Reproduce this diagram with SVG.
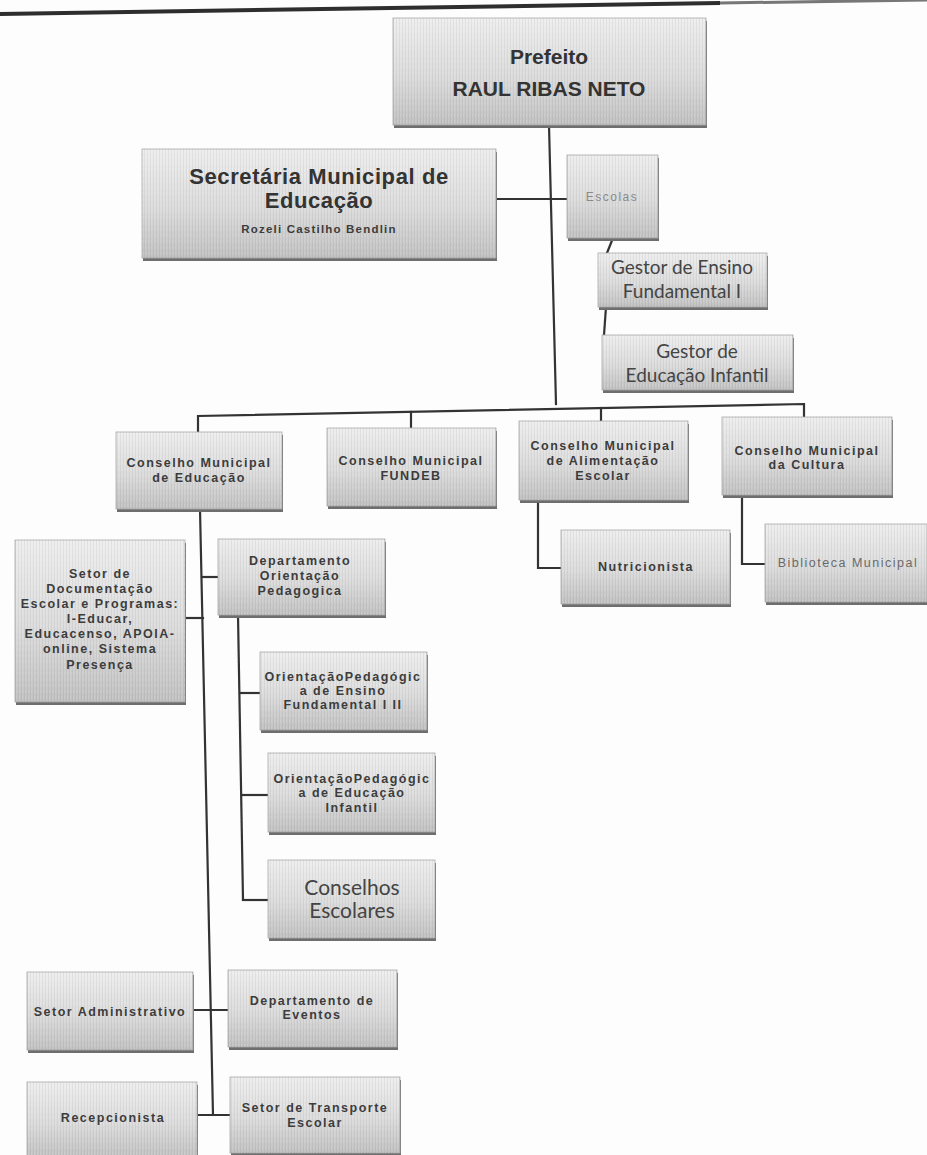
<svg xmlns="http://www.w3.org/2000/svg" width="927" height="1155" viewBox="0 0 927 1155">
<defs>
<linearGradient id="g" x1="0" y1="0" x2="0" y2="1">
<stop offset="0" stop-color="#eeeeee"/>
<stop offset="0.55" stop-color="#dcdcdc"/>
<stop offset="1" stop-color="#c2c2c2"/>
</linearGradient>
<pattern id="stripes" width="3" height="6" patternUnits="userSpaceOnUse">
<rect x="0" y="0" width="1" height="6" fill="#000" fill-opacity="0.05"/>
<rect x="1" y="0" width="1" height="3" fill="#fff" fill-opacity="0.12"/>
</pattern>
<style>
.sh{fill:#6e6e6e}
.bx{fill:url(#g);stroke:#a9a9a9;stroke-width:0.8}
.tx{fill:url(#stripes)}
.c{fill:none;stroke:#333;stroke-width:2.2;stroke-linecap:square}
.s{font-family:"Liberation Sans",Arial,sans-serif;font-size:12.5px;font-weight:bold;letter-spacing:1.5px;fill:#3c3c3c;text-anchor:middle}
.sl{font-family:"Liberation Sans",Arial,sans-serif;font-size:12.5px;letter-spacing:1.5px;fill:#6a6a6a;text-anchor:middle}
.cal{font-family:Lato,"Open Sans",sans-serif;font-size:19px;fill:#444;text-anchor:middle}
.big{font-family:"Liberation Sans",Arial,sans-serif;font-weight:bold;fill:#333;text-anchor:middle}
</style>
</defs>
<rect width="927" height="1155" fill="#fdfdfd"/>
<g id="topline">
<path d="M0 14 L720 3" stroke="#2e2e2e" stroke-width="4" fill="none"/>
<path d="M720 3 L927 0" stroke="#777" stroke-width="3" fill="none"/>
</g>
<g id="connectors">
<path class="c" d="M549 125 L556 404"/>
<path class="c" d="M496 199 L567 199"/>
<path class="c" d="M613 238 L607 253"/>
<path class="c" d="M606 307 L604 335"/>
<path class="c" d="M198 432 L198 416 L804 404 L804 417"/>
<path class="c" d="M411 412 L411 428"/>
<path class="c" d="M601 408 L601 421"/>
<path class="c" d="M538 500 L538 568 L561 568"/>
<path class="c" d="M742 495 L742 564 L765 564"/>
<path class="c" d="M200 509 L213 1115"/>
<path class="c" d="M185 618 L203 618"/>
<path class="c" d="M202 577 L218 577"/>
<path class="c" d="M238 615 L243 900"/>
<path class="c" d="M241 693 L260 693"/>
<path class="c" d="M242 795 L268 795"/>
<path class="c" d="M243 900 L268 900"/>
<path class="c" d="M193 1010 L228 1010"/>
<path class="c" d="M197 1115 L230 1115"/>
</g>
<g id="n-prefeito">
<rect class="sh" x="394" y="21" width="313" height="107"/>
<rect class="bx" x="393" y="18" width="313" height="107"/>
<rect class="tx" x="393" y="18" width="313" height="107"/>
<text class="big" x="549" y="64" font-size="21">Prefeito</text>
<text class="big" x="549" y="96" font-size="21">RAUL RIBAS NETO</text>
</g>
<g id="n-secretaria">
<rect class="sh" x="143" y="152" width="354" height="109"/>
<rect class="bx" x="142" y="149" width="354" height="109"/>
<rect class="tx" x="142" y="149" width="354" height="109"/>
<text class="big" x="319" y="184" font-size="22" letter-spacing="0.6">Secretária Municipal de</text>
<text class="big" x="319" y="208" font-size="22" letter-spacing="0.6">Educação</text>
<text class="s" x="319" y="233" style="font-size:11.5px;letter-spacing:1.2px">Rozeli Castilho Bendlin</text>
</g>
<g id="n-escolas">
<rect class="sh" x="568" y="158" width="91" height="83"/>
<rect class="bx" x="567" y="155" width="91" height="83"/>
<rect class="tx" x="567" y="155" width="91" height="83"/>
<text class="sl" x="612" y="201" style="fill:#8a8a8a;font-size:12px">Escolas</text>
</g>
<g id="n-gestor-ef">
<rect class="sh" x="599" y="256" width="169" height="54"/>
<rect class="bx" x="598" y="253" width="169" height="54"/>
<rect class="tx" x="598" y="253" width="169" height="54"/>
<text class="cal" x="682" y="274">Gestor de Ensino</text>
<text class="cal" x="682" y="298">Fundamental  I</text>
</g>
<g id="n-gestor-ei">
<rect class="sh" x="603" y="338" width="191" height="55"/>
<rect class="bx" x="602" y="335" width="191" height="55"/>
<rect class="tx" x="602" y="335" width="191" height="55"/>
<text class="cal" x="697" y="358">Gestor de</text>
<text class="cal" x="697" y="382">Educação Infantil</text>
</g>
<g id="n-cme">
<rect class="sh" x="117" y="435" width="166" height="77"/>
<rect class="bx" x="116" y="432" width="166" height="77"/>
<rect class="tx" x="116" y="432" width="166" height="77"/>
<text class="s" x="199" y="467">Conselho Municipal</text>
<text class="s" x="199" y="482">de Educação</text>
</g>
<g id="n-fundeb">
<rect class="sh" x="328" y="431" width="169" height="78"/>
<rect class="bx" x="327" y="428" width="169" height="78"/>
<rect class="tx" x="327" y="428" width="169" height="78"/>
<text class="s" x="411" y="465">Conselho Municipal</text>
<text class="s" x="411" y="480">FUNDEB</text>
</g>
<g id="n-alimentacao">
<rect class="sh" x="520" y="424" width="169" height="79"/>
<rect class="bx" x="519" y="421" width="169" height="79"/>
<rect class="tx" x="519" y="421" width="169" height="79"/>
<text class="s" x="603" y="450">Conselho Municipal</text>
<text class="s" x="603" y="465">de Alimentação</text>
<text class="s" x="603" y="480">Escolar</text>
</g>
<g id="n-cultura">
<rect class="sh" x="723" y="420" width="170" height="78"/>
<rect class="bx" x="722" y="417" width="170" height="78"/>
<rect class="tx" x="722" y="417" width="170" height="78"/>
<text class="s" x="807" y="455">Conselho Municipal</text>
<text class="s" x="807" y="469">da Cultura</text>
</g>
<g id="n-nutricionista">
<rect class="sh" x="562" y="533" width="169" height="74"/>
<rect class="bx" x="561" y="530" width="169" height="74"/>
<rect class="tx" x="561" y="530" width="169" height="74"/>
<text class="s" x="646" y="571">Nutricionista</text>
</g>
<g id="n-biblioteca">
<rect class="sh" x="766" y="527" width="162" height="78"/>
<rect class="bx" x="765" y="524" width="162" height="78"/>
<rect class="tx" x="765" y="524" width="162" height="78"/>
<text class="sl" x="848" y="567">Biblioteca Municipal</text>
</g>
<g id="n-setor-doc">
<rect class="sh" x="16" y="543" width="170" height="162"/>
<rect class="bx" x="15" y="540" width="170" height="162"/>
<rect class="tx" x="15" y="540" width="170" height="162"/>
<text class="s" x="100" y="578">Setor de</text>
<text class="s" x="100" y="593">Documentação</text>
<text class="s" x="100" y="608">Escolar e Programas:</text>
<text class="s" x="100" y="623">I-Educar,</text>
<text class="s" x="100" y="638">Educacenso, APOIA-</text>
<text class="s" x="100" y="653">online, Sistema</text>
<text class="s" x="100" y="669">Presença</text>
</g>
<g id="n-dept-op">
<rect class="sh" x="219" y="542" width="167" height="76"/>
<rect class="bx" x="218" y="539" width="167" height="76"/>
<rect class="tx" x="218" y="539" width="167" height="76"/>
<text class="s" x="300" y="565">Departamento</text>
<text class="s" x="300" y="580">Orientação</text>
<text class="s" x="300" y="595">Pedagogica</text>
</g>
<g id="n-op-ef">
<rect class="sh" x="261" y="655" width="167" height="78"/>
<rect class="bx" x="260" y="652" width="167" height="78"/>
<rect class="tx" x="260" y="652" width="167" height="78"/>
<text class="s" x="343" y="681">OrientaçãoPedagógic</text>
<text class="s" x="343" y="695">a de Ensino</text>
<text class="s" x="343" y="709">Fundamental I  II</text>
</g>
<g id="n-op-ei">
<rect class="sh" x="269" y="756" width="167" height="79"/>
<rect class="bx" x="268" y="753" width="167" height="79"/>
<rect class="tx" x="268" y="753" width="167" height="79"/>
<text class="s" x="352" y="783">OrientaçãoPedagógic</text>
<text class="s" x="352" y="797">a de Educação</text>
<text class="s" x="352" y="812">Infantil</text>
</g>
<g id="n-conselhos-escolares">
<rect class="sh" x="269" y="863" width="167" height="78"/>
<rect class="bx" x="268" y="860" width="167" height="78"/>
<rect class="tx" x="268" y="860" width="167" height="78"/>
<text class="cal" x="352" y="895" style="font-size:21px">Conselhos</text>
<text class="cal" x="352" y="918" style="font-size:21px">Escolares</text>
</g>
<g id="n-setor-adm">
<rect class="sh" x="28" y="975" width="166" height="78"/>
<rect class="bx" x="27" y="972" width="166" height="78"/>
<rect class="tx" x="27" y="972" width="166" height="78"/>
<text class="s" x="110" y="1016">Setor Administrativo</text>
</g>
<g id="n-eventos">
<rect class="sh" x="229" y="973" width="169" height="77"/>
<rect class="bx" x="228" y="970" width="169" height="77"/>
<rect class="tx" x="228" y="970" width="169" height="77"/>
<text class="s" x="312" y="1005">Departamento de</text>
<text class="s" x="312" y="1019">Eventos</text>
</g>
<g id="n-recepcionista">
<rect class="sh" x="28" y="1085" width="170" height="76"/>
<rect class="bx" x="27" y="1082" width="170" height="76"/>
<rect class="tx" x="27" y="1082" width="170" height="76"/>
<text class="s" x="113" y="1122">Recepcionista</text>
</g>
<g id="n-transporte">
<rect class="sh" x="231" y="1080" width="170" height="76"/>
<rect class="bx" x="230" y="1077" width="170" height="76"/>
<rect class="tx" x="230" y="1077" width="170" height="76"/>
<text class="s" x="315" y="1112">Setor de Transporte</text>
<text class="s" x="315" y="1127">Escolar</text>
</g>
</svg>
